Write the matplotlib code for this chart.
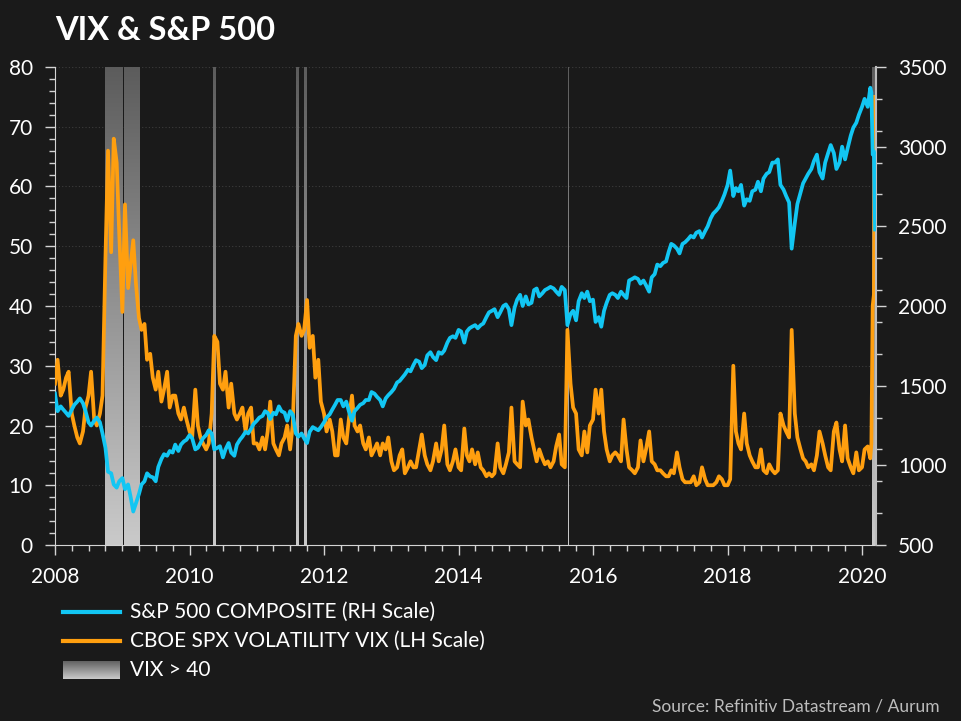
"""VIX & S&P 500: VIX (left scale) against the S&P 500 (right scale), with VIX > 40 periods shaded."""

import matplotlib

matplotlib.use("Agg")
import matplotlib.dates as mdates
import matplotlib.pyplot as plt
import numpy as np
import pandas as pd
from matplotlib.colors import LinearSegmentedColormap
from matplotlib.lines import Line2D
from matplotlib.ticker import FixedLocator, MultipleLocator

plt.rcParams["font.family"] = ["Lato", "DejaVu Sans"]

BG = "#1a1a1a"
SPX_COLOR = "#12c6f3"
VIX_COLOR = "#ff9f0f"
AXIS_COLOR = "#d4d4d4"

# Semi-monthly readings (1st and 15th of each month), Jan 2008 .. Feb 2020
vix_2008 = [27, 31, 25, 26, 28, 29, 22, 20, 18, 17, 19, 23, 25, 29, 21, 20, 22, 25, 48, 66, 49, 68, 64, 52]
vix_2009 = [39, 57, 43, 47, 51, 44, 38, 36, 37, 31, 32, 28, 26, 29, 24, 26, 29, 23, 25, 25, 22, 21, 23, 21]
vix_2010 = [19, 18, 26, 20, 18, 17, 16, 17, 22, 35, 34, 27, 26, 29, 23, 27, 22, 21, 22, 23, 19, 22, 23, 17]
vix_2011 = [17, 16, 18, 16, 19, 24, 17, 16, 15, 17, 18, 20, 16, 20, 35, 37, 35, 36, 41, 33, 35, 28, 31, 24]
vix_2012 = [22, 19, 21, 19, 15, 15, 21, 18, 17, 21, 25, 20, 19, 20, 17, 16, 18, 15, 16, 17, 15, 17, 16, 18]
vix_2013 = [14, 12.5, 13, 15, 16, 12, 13, 14, 13, 13, 16, 18.5, 15, 13.5, 12.5, 14, 17, 14, 16, 20, 13.5, 12.5, 14, 16]
vix_2014 = [13, 12.5, 19.5, 15, 14, 16, 13.5, 15.5, 13, 12.5, 11.5, 12, 11.5, 12, 17, 13, 12, 13.5, 15.5, 23, 14, 13.5, 13, 24]
vix_2015 = [20, 21, 18, 16, 14, 16, 14.5, 13.5, 14, 13, 14, 16.5, 18.5, 13.5, 13, 36, 27, 23, 22, 16, 15, 19, 15.5, 20]
vix_2016 = [21, 26, 22, 26, 19, 16, 14, 15, 15.5, 15, 14, 21, 16, 13, 12.5, 12, 13, 17.5, 14, 16, 19, 14, 13.5, 12.5]
vix_2017 = [12.5, 12, 11.5, 11.5, 12.5, 12, 15.5, 13, 11, 10.5, 10.5, 10.5, 11.5, 10, 10.5, 13, 11, 10, 10, 10, 10.5, 11.5, 11, 10]
vix_2018 = [10, 11, 30, 19, 17, 16, 22, 17, 15, 14, 13, 13, 16, 12.5, 12, 13.5, 12.5, 12, 12.5, 22, 20, 19, 18, 36]
vix_2019 = [22, 18, 16, 14.5, 14, 13, 13.5, 12.5, 15, 19, 17, 15, 13, 12.5, 19, 20.5, 16, 14, 20, 14.5, 13, 12, 15.5, 12.5]
vix_2020 = [13, 16, 16.5, 14.5]

spx_2008 = [1450, 1340, 1370, 1350, 1330, 1310, 1350, 1380, 1400, 1420, 1390, 1340, 1270, 1250, 1280, 1300, 1270, 1200, 1110, 960, 950, 880, 860, 900]
spx_2009 = [920, 850, 880, 800, 710, 760, 820, 880, 900, 950, 930, 925, 900, 990, 1040, 1070, 1060, 1090, 1080, 1130, 1090, 1130, 1150, 1160]
spx_2010 = [1190, 1170, 1100, 1110, 1140, 1170, 1190, 1220, 1200, 1100, 1110, 1120, 1050, 1100, 1140, 1080, 1060, 1130, 1160, 1180, 1210, 1200, 1230, 1260]
spx_2011 = [1280, 1300, 1310, 1340, 1330, 1290, 1330, 1320, 1370, 1340, 1330, 1280, 1340, 1320, 1200, 1180, 1200, 1170, 1140, 1210, 1240, 1230, 1220, 1240]
spx_2012 = [1270, 1300, 1320, 1350, 1380, 1410, 1410, 1370, 1400, 1340, 1280, 1340, 1360, 1380, 1390, 1410, 1410, 1460, 1450, 1430, 1410, 1370, 1420, 1440]
spx_2013 = [1460, 1480, 1520, 1530, 1550, 1570, 1600, 1590, 1630, 1660, 1650, 1610, 1630, 1690, 1710, 1680, 1660, 1710, 1700, 1720, 1770, 1800, 1810, 1800]
spx_2014 = [1850, 1840, 1770, 1840, 1860, 1870, 1880, 1860, 1880, 1890, 1930, 1960, 1970, 1980, 1930, 1960, 2000, 2010, 1980, 1880, 1990, 2040, 2070, 2000]
spx_2015 = [2060, 2010, 2020, 2100, 2110, 2060, 2080, 2100, 2110, 2120, 2110, 2090, 2070, 2120, 2100, 1880, 1950, 1970, 1910, 2030, 2080, 2050, 2090, 2030]
spx_2016 = [2040, 1900, 1930, 1870, 1970, 2020, 2070, 2080, 2070, 2050, 2090, 2070, 2050, 2160, 2170, 2180, 2170, 2140, 2160, 2130, 2090, 2180, 2200, 2260]
spx_2017 = [2250, 2270, 2280, 2340, 2390, 2380, 2360, 2330, 2390, 2400, 2420, 2440, 2430, 2460, 2470, 2430, 2470, 2500, 2550, 2580, 2600, 2620, 2660, 2700]
spx_2018 = [2760, 2850, 2690, 2740, 2720, 2760, 2630, 2670, 2660, 2720, 2730, 2780, 2720, 2800, 2830, 2840, 2900, 2900, 2920, 2760, 2730, 2690, 2650, 2360]
spx_2019 = [2520, 2640, 2710, 2770, 2800, 2830, 2860, 2910, 2950, 2840, 2800, 2900, 2960, 3010, 2960, 2860, 2900, 3000, 2920, 2990, 3070, 3120, 3150, 3200]
spx_2020 = [3250, 3300, 3250, 3370]

# Weekly readings through the Feb/Mar 2020 sell-off
tail_dates = ["2020-02-21", "2020-02-28", "2020-03-06", "2020-03-12"]
vix_tail = [17, 40, 42, 75]
spx_tail = [3340, 2950, 2970, 2480]

# Periods with VIX above 40
vix_above_40 = [
    ("2008-10-01", "2009-01-02"),
    ("2009-01-08", "2009-01-19"),
    ("2009-01-25", "2009-04-01"),
    ("2010-05-06", "2010-05-19"),
    ("2011-08-04", "2011-08-17"),
    ("2011-09-16", "2011-10-02"),
    ("2015-08-20", "2015-08-25"),
    ("2020-02-26", "2020-03-17"),
]


def main() -> None:
    dates = pd.date_range("2008-01-01", "2020-02-15", freq="SMS").append(pd.to_datetime(tail_dates))
    vix = np.array(vix_2008 + vix_2009 + vix_2010 + vix_2011 + vix_2012 + vix_2013 + vix_2014
                   + vix_2015 + vix_2016 + vix_2017 + vix_2018 + vix_2019 + vix_2020 + vix_tail)
    spx = np.array(spx_2008 + spx_2009 + spx_2010 + spx_2011 + spx_2012 + spx_2013 + spx_2014
                   + spx_2015 + spx_2016 + spx_2017 + spx_2018 + spx_2019 + spx_2020 + spx_tail)
    assert len(dates) == len(vix) == len(spx)

    fig = plt.figure(figsize=(9.61, 7.21), dpi=100, facecolor=BG)
    ax = fig.add_axes([55 / 961, 1 - 545 / 721, 821 / 961, 478 / 721])
    ax.set_facecolor(BG)

    ax.plot(dates, vix, color=VIX_COLOR, lw=2.7, zorder=3, solid_joinstyle="round")

    grad = np.linspace(0, 1, 256).reshape(-1, 1)
    band_cmap = LinearSegmentedColormap.from_list("band", ["#cacaca", "#5c5c5c"])
    for start, end in vix_above_40:
        x0 = mdates.date2num(pd.Timestamp(start))
        x1 = mdates.date2num(pd.Timestamp(end))
        ax.imshow(grad, extent=[x0, x1, 0, 80], origin="lower", cmap=band_cmap,
                  aspect="auto", interpolation="bilinear", zorder=1)

    ax.set_xlim(pd.Timestamp("2008-01-01"), pd.Timestamp("2020-03-17"))
    ax.set_ylim(0, 80)

    ax2 = ax.twinx()
    ax2.plot(dates, spx, color=SPX_COLOR, lw=2.7, zorder=3, solid_joinstyle="round")
    ax2.set_ylim(500, 3500)
    ax2.set_xlim(ax.get_xlim())

    # axes styling
    for a in (ax, ax2):
        for side in a.spines:
            a.spines[side].set_visible(False)
    ax.spines["left"].set_visible(True)
    ax.spines["bottom"].set_visible(True)
    ax.spines["left"].set_color(AXIS_COLOR)
    ax.spines["bottom"].set_color(AXIS_COLOR)
    ax2.spines["right"].set_visible(True)
    ax2.spines["right"].set_color("#bdbdbd")
    ax2.spines["right"].set_linewidth(1.5)

    ax.yaxis.set_major_locator(MultipleLocator(10))
    ax.yaxis.set_minor_locator(MultipleLocator(2))
    ax2.yaxis.set_major_locator(MultipleLocator(500))
    ax2.yaxis.set_minor_locator(FixedLocator(list(range(700, 3500, 200))))

    ax.xaxis.set_major_locator(mdates.YearLocator(2))
    ax.xaxis.set_minor_locator(mdates.MonthLocator(bymonth=[1, 4, 7, 10]))
    ax.xaxis.set_major_formatter(mdates.DateFormatter("%Y"))

    ax.tick_params(axis="both", which="major", colors=AXIS_COLOR, labelcolor="white",
                   labelsize=15, length=7, width=1)
    ax.tick_params(axis="both", which="minor", colors=AXIS_COLOR, length=4, width=1)
    ax.tick_params(axis="y", which="major", pad=9)
    ax.tick_params(axis="x", which="major", pad=9)
    ax2.tick_params(axis="y", which="major", colors=AXIS_COLOR, labelcolor="white",
                    labelsize=15, length=7, width=1, pad=9)
    ax2.tick_params(axis="y", which="minor", colors=AXIS_COLOR, length=4, width=1)
    ax2.tick_params(axis="x", which="both", bottom=False, labelbottom=False)

    ax.yaxis.grid(True, which="major", color="#3c3c3c", linestyle=(0, (1, 2)), lw=0.8)
    ax.set_axisbelow(True)

    # title and source
    fig.text(55 / 961, 1 - 30 / 721, "VIX & S&P 500", color="white", fontsize=23.5,
             fontweight="bold", ha="left", va="center")
    fig.text(940 / 961, 1 - 706 / 721, "Source: Refinitiv Datastream / Aurum",
             color="#bdbdbd", fontsize=12.5, ha="right", va="center")

    # legend drawn by hand so the VIX > 40 swatch keeps its gradient
    legend_rows = [
        (612, "line", SPX_COLOR, "S&P 500 COMPOSITE (RH Scale)"),
        (641, "line", VIX_COLOR, "CBOE SPX VOLATILITY VIX (LH Scale)"),
        (670, "band", None, "VIX > 40"),
    ]
    for y_px, kind, color, label in legend_rows:
        y = 1 - y_px / 721
        if kind == "line":
            fig.add_artist(Line2D([63 / 961, 120 / 961], [y, y], transform=fig.transFigure,
                                  color=color, lw=3))
        else:
            sw = fig.add_axes([63 / 961, 1 - 679 / 721, 57 / 961, 18 / 721])
            sw.imshow(grad, origin="lower", cmap=band_cmap, aspect="auto")
            sw.axis("off")
        fig.text(130 / 961, y, label, color="white", fontsize=15, ha="left", va="center")

    fig.savefig("out.png", dpi=100, facecolor=BG)
    plt.close(fig)


if __name__ == "__main__":
    main()
